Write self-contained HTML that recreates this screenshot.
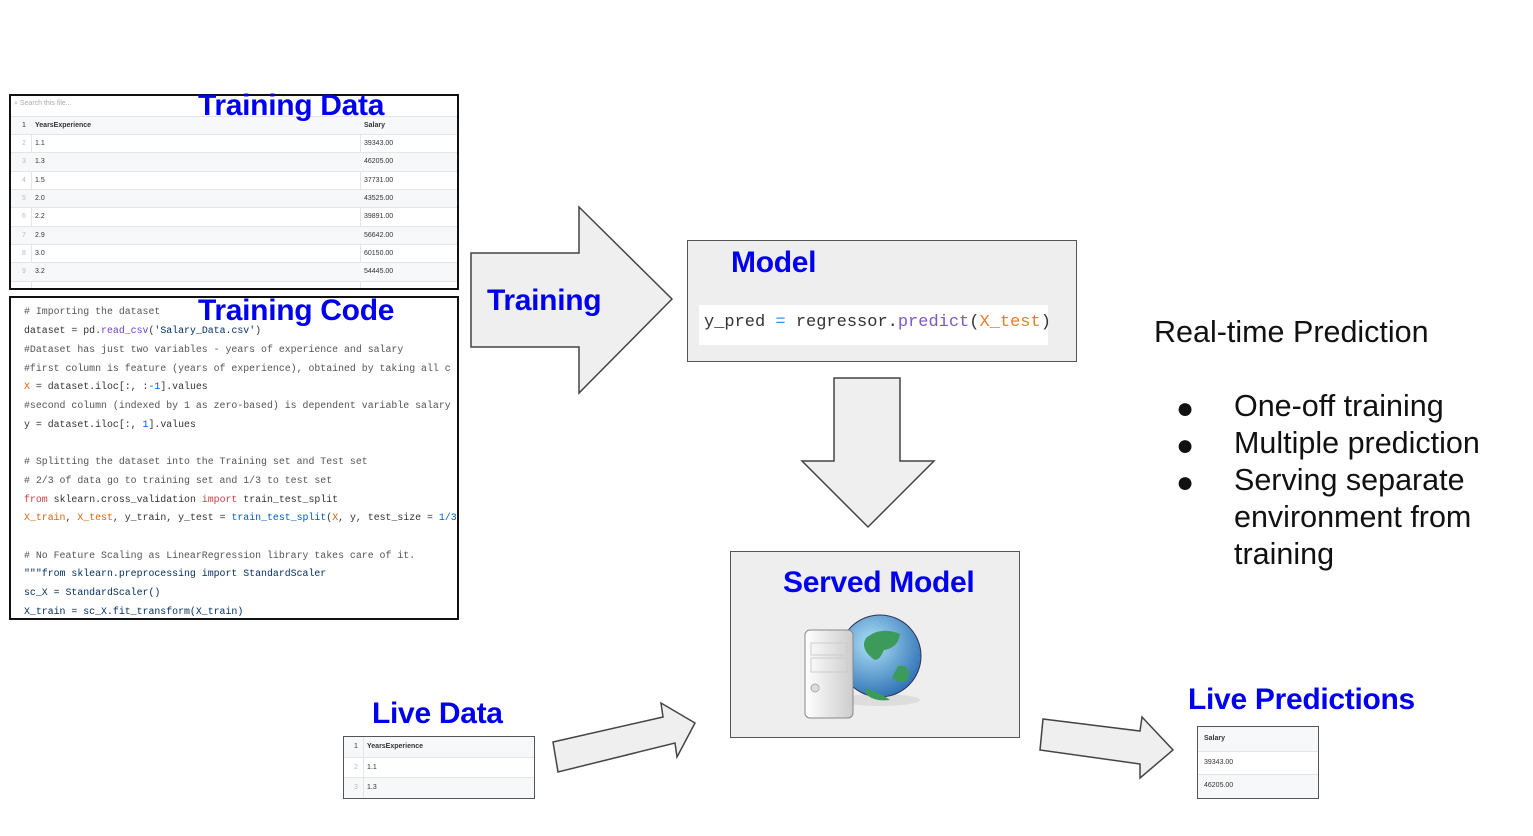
<!DOCTYPE html>
<html><head><meta charset="utf-8">
<style>
body{margin:0;width:1533px;height:836px;background:#fff;position:relative;overflow:hidden;font-family:"Liberation Sans",sans-serif}
.abs{position:absolute}
.blue{color:#0000ee;font-weight:bold;font-family:"Liberation Sans",sans-serif;letter-spacing:-0.3px;white-space:nowrap}
.tbl{position:absolute;border:2px solid #111;background:#fff;overflow:hidden}
.row{position:absolute;left:0;right:0;border-top:1px solid #e3e5e8;font-size:7px;color:#333}
.code{font-family:"Liberation Mono",monospace;font-size:9.9px;color:#555;white-space:pre;position:absolute;left:13px}
</style></head><body>
<svg class="abs" style="left:0;top:0" width="1533" height="836">
<g fill="#efefef" stroke="#444" stroke-width="1.5">
<polygon points="471,253 579,253 579,207 672,299 579,393 579,347 471,347"/>
<polygon points="834,378 900,378 900,461 934,461 868,527 802,461 834,461"/>
<polygon points="553,742 663,717 661,703 695,723 677,757 675,743 558,772"/>
<polygon points="1043,719 1140,731 1142,717 1173,750 1140,778 1140,764 1040,750"/>
</g>
</svg>

<div class="tbl" style="left:9px;top:94px;width:446px;height:192px">
<div class="abs" style="left:3px;top:4px;font-size:7px;color:#aaa">⌕ Search this file...</div>
<div class="abs" style="left:0;top:20px;width:20px;height:180px;background:#fff;border-right:1px solid #e3e5e8"></div>
<div class="abs" style="left:349px;top:20px;height:180px;border-left:1px solid #e3e5e8"></div>
<div class="row" style="top:20px;height:18px;background:#f6f8fa"><span class="abs" style="left:11px;top:5px">1</span><b class="abs" style="left:24px;top:5px">YearsExperience</b><b class="abs" style="left:353px;top:5px">Salary</b></div>
<div class="row" style="top:38px;height:18px"><span class="abs" style="left:11px;top:5px;color:#bbb">2</span><span class="abs" style="left:24px;top:5px">1.1</span><span class="abs" style="left:353px;top:5px">39343.00</span></div>
<div class="row" style="top:56px;height:18px;background:#f6f8fa"><span class="abs" style="left:11px;top:5px;color:#bbb">3</span><span class="abs" style="left:24px;top:5px">1.3</span><span class="abs" style="left:353px;top:5px">46205.00</span></div>
<div class="row" style="top:75px;height:18px"><span class="abs" style="left:11px;top:5px;color:#bbb">4</span><span class="abs" style="left:24px;top:5px">1.5</span><span class="abs" style="left:353px;top:5px">37731.00</span></div>
<div class="row" style="top:93px;height:18px;background:#f6f8fa"><span class="abs" style="left:11px;top:5px;color:#bbb">5</span><span class="abs" style="left:24px;top:5px">2.0</span><span class="abs" style="left:353px;top:5px">43525.00</span></div>
<div class="row" style="top:111px;height:18px"><span class="abs" style="left:11px;top:5px;color:#bbb">6</span><span class="abs" style="left:24px;top:5px">2.2</span><span class="abs" style="left:353px;top:5px">39891.00</span></div>
<div class="row" style="top:130px;height:18px;background:#f6f8fa"><span class="abs" style="left:11px;top:5px;color:#bbb">7</span><span class="abs" style="left:24px;top:5px">2.9</span><span class="abs" style="left:353px;top:5px">56642.00</span></div>
<div class="row" style="top:148px;height:18px"><span class="abs" style="left:11px;top:5px;color:#bbb">8</span><span class="abs" style="left:24px;top:5px">3.0</span><span class="abs" style="left:353px;top:5px">60150.00</span></div>
<div class="row" style="top:166px;height:18px;background:#f6f8fa"><span class="abs" style="left:11px;top:5px;color:#bbb">9</span><span class="abs" style="left:24px;top:5px">3.2</span><span class="abs" style="left:353px;top:5px">54445.00</span></div>
<div class="row" style="top:185px;height:18px"></div>
</div>
<div class="abs blue" style="left:198px;top:89px;font-size:30px">Training Data</div>

<div class="tbl" style="left:9px;top:296px;width:446px;height:320px">
<div class="code" style="top:8px"># Importing the dataset</div>
<div class="code" style="top:27px;color:#333">dataset = pd.<span style="color:#6f42c1">read_csv</span>(<span style="color:#032f62">'Salary_Data.csv'</span>)</div>
<div class="code" style="top:46px">#Dataset has just two variables - years of experience and salary</div>
<div class="code" style="top:65px">#first column is feature (years of experience), obtained by taking all c</div>
<div class="code" style="top:83px;color:#333"><span style="color:#e36209">X</span> = dataset.iloc[:, :<span style="color:#005cc5">-1</span>].values</div>
<div class="code" style="top:102px">#second column (indexed by 1 as zero-based) is dependent variable salary</div>
<div class="code" style="top:121px;color:#333">y = dataset.iloc[:, <span style="color:#005cc5">1</span>].values</div>
<div class="code" style="top:158px"># Splitting the dataset into the Training set and Test set</div>
<div class="code" style="top:177px"># 2/3 of data go to training set and 1/3 to test set</div>
<div class="code" style="top:196px;color:#333"><span style="color:#d73a49">from</span> sklearn.cross_validation <span style="color:#d73a49">import</span> train_test_split</div>
<div class="code" style="top:214px;color:#333"><span style="color:#e36209">X_train</span>, <span style="color:#e36209">X_test</span>, y_train, y_test = <span style="color:#005cc5">train_test_split</span>(<span style="color:#e36209">X</span>, y, test_size = <span style="color:#005cc5">1/3</span></div>
<div class="code" style="top:252px"># No Feature Scaling as LinearRegression library takes care of it.</div>
<div class="code" style="top:270px;color:#032f62">"""from sklearn.preprocessing import StandardScaler</div>
<div class="code" style="top:289px;color:#032f62">sc_X = StandardScaler()</div>
<div class="code" style="top:308px;color:#032f62">X_train = sc_X.fit_transform(X_train)</div>
</div>
<div class="abs blue" style="left:198px;top:294px;font-size:30px">Training Code</div>

<div class="abs blue" style="left:487px;top:284px;font-size:30px">Training</div>

<div class="abs" style="left:687px;top:240px;width:388px;height:120px;background:#eee;border:1.5px solid #555"></div>
<div class="abs blue" style="left:731px;top:246px;font-size:30px">Model</div>
<div class="abs" style="left:699px;top:305px;width:349px;height:40px;background:#fff"></div>
<div class="abs" style="left:704px;top:313px;font-family:'Liberation Mono',monospace;font-size:17px;color:#333;white-space:pre">y_pred <span style="color:#3b8ee6">=</span> regressor.<span style="color:#7e57c2">predict</span>(<span style="color:#ef7a28">X_test</span>)</div>

<div class="abs" style="left:730px;top:551px;width:288px;height:185px;background:#eee;border:1.5px solid #555"></div>
<div class="abs blue" style="left:783px;top:566px;font-size:30px">Served Model</div>
<svg class="abs" style="left:800px;top:608px" width="130" height="115">
<defs><radialGradient id="g" cx="0.4" cy="0.35" r="0.7"><stop offset="0" stop-color="#aee0f7"/><stop offset="1" stop-color="#2b6fb3"/></radialGradient>
<linearGradient id="s" x1="0" x2="1"><stop offset="0" stop-color="#fff"/><stop offset="1" stop-color="#ccc"/></linearGradient></defs>
<ellipse cx="80" cy="92" rx="40" ry="6" fill="#ddd"/>
<circle cx="80" cy="48" r="41" fill="url(#g)" stroke="#335" stroke-width="1"/>
<path d="M66,30 Q80,18 100,26 Q98,40 84,42 Q78,56 72,50 Q60,40 66,30Z M98,58 Q112,56 108,72 Q98,76 92,70Z M66,80 Q82,86 90,92 Q74,94 66,86Z" fill="#3c9a5a"/>
<rect x="5" y="22" width="48" height="88" rx="5" fill="url(#s)" stroke="#888"/>
<rect x="11" y="35" width="36" height="12" fill="none" stroke="#ccc"/>
<rect x="11" y="50" width="36" height="14" fill="none" stroke="#ccc"/>
<circle cx="15" cy="80" r="4" fill="#ddd" stroke="#aaa"/>
</svg>

<div class="abs blue" style="left:372px;top:697px;font-size:30px">Live Data</div>
<div class="tbl" style="left:343px;top:736px;width:190px;height:61px;border-width:1.5px;border-color:#555">
<div class="row" style="top:0;height:20px;background:#f6f8fa;border:0"><span class="abs" style="left:10px;top:6px">1</span><b class="abs" style="left:23px;top:6px">YearsExperience</b></div>
<div class="row" style="top:20px;height:20px"><span class="abs" style="left:10px;top:6px;color:#bbb">2</span><span class="abs" style="left:23px;top:6px">1.1</span></div>
<div class="row" style="top:40px;height:20px;background:#f6f8fa"><span class="abs" style="left:10px;top:6px;color:#bbb">3</span><span class="abs" style="left:23px;top:6px">1.3</span></div>
<div class="abs" style="left:19px;top:0;height:61px;border-left:1px solid #e3e5e8"></div>
</div>

<div class="abs blue" style="left:1188px;top:683px;font-size:30px">Live Predictions</div>
<div class="tbl" style="left:1197px;top:726px;width:120px;height:71px;border-width:1.5px;border-color:#555">
<div class="row" style="top:0;height:24px;background:#f6f8fa;border:0"><b class="abs" style="left:6px;top:8px">Salary</b></div>
<div class="row" style="top:24px;height:23px"><span class="abs" style="left:6px;top:7px">39343.00</span></div>
<div class="row" style="top:47px;height:24px;background:#f6f8fa"><span class="abs" style="left:6px;top:7px">46205.00</span></div>
</div>

<div class="abs" style="left:1154px;top:315px;font-size:30.5px;color:#111;white-space:nowrap">Real-time Prediction</div>
<div class="abs" style="left:1176px;top:390px;font-size:30px;color:#111;line-height:37px">
<div>●</div><div>●</div><div>●</div></div>
<div class="abs" style="left:1234px;top:388px;font-size:30.5px;color:#111;line-height:37px;width:300px">
<div>One-off training</div><div>Multiple prediction</div><div>Serving separate environment from training</div></div>
</body></html>
